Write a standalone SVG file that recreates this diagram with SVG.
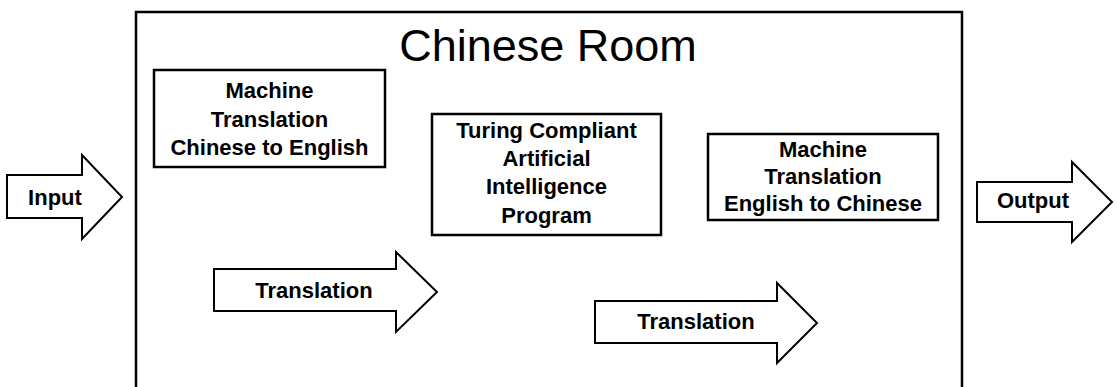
<svg xmlns="http://www.w3.org/2000/svg" width="1117" height="387" viewBox="0 0 1117 387">
  <style>
    .room { fill: none; stroke: #000; stroke-width: 2.5; }
    .box { fill: #fff; stroke: #000; stroke-width: 2.5; }
    .arrow { fill: #fff; stroke: #000; stroke-width: 2; stroke-linejoin: miter; }
    .title { font-family: "Liberation Sans", Arial, sans-serif; font-size: 45px; fill: #000; text-anchor: middle; }
    .lbl { font-family: "Liberation Sans", Arial, sans-serif; font-size: 22px; font-weight: bold; fill: #000; text-anchor: middle; }
  </style>
  <rect width="1117" height="387" fill="#fff"/>

  <!-- the room: open at the bottom -->
  <g id="room">
    <path class="room" d="M136,387 V12 H962 V387"/>
    <text class="title" x="548" y="61">Chinese Room</text>
  </g>

  <g id="mt-zh-en">
    <rect class="box" x="154" y="70" width="231" height="97"/>
    <text class="lbl" x="269.5" y="98">Machine</text>
    <text class="lbl" x="269.5" y="127">Translation</text>
    <text class="lbl" x="269.5" y="155">Chinese to English</text>
  </g>

  <g id="ai-program">
    <rect class="box" x="432" y="114" width="229" height="121"/>
    <text class="lbl" x="546.5" y="138">Turing Compliant</text>
    <text class="lbl" x="546.5" y="166">Artificial</text>
    <text class="lbl" x="546.5" y="194">Intelligence</text>
    <text class="lbl" x="546.5" y="223">Program</text>
  </g>

  <g id="mt-en-zh">
    <rect class="box" x="708" y="134" width="230" height="86"/>
    <text class="lbl" x="823" y="157">Machine</text>
    <text class="lbl" x="823" y="184">Translation</text>
    <text class="lbl" x="823" y="211">English to Chinese</text>
  </g>

  <!-- block arrows -->
  <g id="connectors">
    <g id="input">
      <path class="arrow" d="M7,175 H82 V155 L122,197 L82,239 V218 H7 Z"/>
      <text class="lbl" x="55" y="205">Input</text>
    </g>
    <g id="translation-1">
      <path class="arrow" d="M214,269 H396 V252 L437,292 L396,332 V311 H214 Z"/>
      <text class="lbl" x="314" y="298">Translation</text>
    </g>
    <g id="translation-2">
      <path class="arrow" d="M595,301 H777 V283 L817,323 L777,363 V343 H595 Z"/>
      <text class="lbl" x="696" y="329">Translation</text>
    </g>
    <g id="output">
      <path class="arrow" d="M977,182 H1072 V162 L1112,202 L1072,242 V222 H977 Z"/>
      <text class="lbl" x="1033" y="208">Output</text>
    </g>
  </g>
</svg>
